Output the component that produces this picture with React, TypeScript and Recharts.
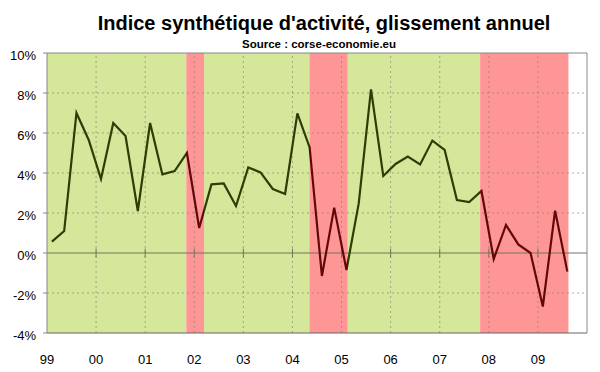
import { LineChart, Line, XAxis, YAxis, ReferenceArea, ReferenceLine } from 'recharts';

// quarterly year-on-year change of the activity index, 1999 Q1 .. 2009 Q3
const years = ['99', '00', '01', '02', '03', '04', '05', '06', '07', '08', '09'];
const growth = [
    0.57, 1.1, 7.0, 5.65,
    3.7, 6.5, 5.85, 2.1,
    6.5, 3.93, 4.1, 5.0,
    1.25, 3.43, 3.48, 2.35,
    4.28, 4.03, 3.2, 2.95,
    6.98, 5.28, -1.15, 2.27,
    -0.85, 2.48, 8.18, 3.85,
    4.45, 4.82, 4.43, 5.62,
    5.15, 2.65, 2.55, 3.1,
    -0.3, 1.4, 0.43, 0.0,
    -2.68, 2.12, -0.93,
];
// periods in quarters since 1999 Q1
const greenSpans = [[0, 11.35], [12.8, 21.38], [24.5, 35.29]];
const redSpans = [[11.35, 12.8], [21.38, 24.5], [35.29, 42.49]];
const yTicks = [-4, -2, 0, 2, 4, 6, 8, 10];

const data = growth.map((v, i) => ({ t: i + 0.4, v }));
const xTicks = years.map((_, i) => i * 4);

const tFirst = data[0].t;
const tLast = data[data.length - 1].t;
const pct = (t: number) => Math.min(100, Math.max(0, ((t - tFirst) / (tLast - tFirst)) * 100));

const GREEN_LINE = '#2f3c05';
const RED_LINE = '#620808';
const GRID = '#7d7d6a';
const font = '"Liberation Sans", Arial, sans-serif';

export default function App() {
    const stops: { off: number; color: string }[] = [{ off: 0, color: GREEN_LINE }];
    redSpans.forEach(([a, b]) => {
        stops.push({ off: pct(a), color: GREEN_LINE });
        stops.push({ off: pct(a), color: RED_LINE });
        stops.push({ off: pct(b), color: RED_LINE });
        stops.push({ off: pct(b), color: GREEN_LINE });
    });
    stops.push({ off: 100, color: GREEN_LINE });

    return (
        <div style={{ position: 'absolute', left: 0, top: 0, width: 600, height: 372, background: '#fff', fontFamily: font }}>
            <div style={{ position: 'absolute', left: 0, width: 648, top: 13, textAlign: 'center', fontSize: 20, fontWeight: 'bold', lineHeight: 1, whiteSpace: 'nowrap' }}>
                Indice synthétique d'activité, glissement annuel
            </div>
            <div style={{ position: 'absolute', left: 0, width: 638, top: 39, textAlign: 'center', fontSize: 11.5, fontWeight: 'bold', lineHeight: 1, whiteSpace: 'nowrap' }}>
                Source : corse-economie.eu
            </div>
            <LineChart
                width={600}
                height={372}
                data={data}
                margin={{ top: 53, right: 13, bottom: 0, left: 0 }}
                style={{ position: 'absolute', left: 0, top: 0 }}
            >
                <defs>
                    <linearGradient id="lineTone" x1="0" y1="0" x2="1" y2="0">
                        {stops.map((s, i) => (
                            <stop key={i} offset={`${s.off}%`} stopColor={s.color} />
                        ))}
                    </linearGradient>
                </defs>
                {greenSpans.map(([a, b], i) => (
                    <ReferenceArea key={'g' + i} x1={a} x2={b} fill="#d4e79a" fillOpacity={1} stroke="none" />
                ))}
                {redSpans.map(([a, b], i) => (
                    <ReferenceArea key={'r' + i} x1={a} x2={b} fill="#ff9696" fillOpacity={1} stroke="none" />
                ))}
                {yTicks.filter((v) => v !== 0 && v !== -4 && v !== 10).map((v) => (
                    <ReferenceLine key={'hy' + v} y={v} stroke={GRID} strokeOpacity={0.6} strokeDasharray="2 3" />
                ))}
                {xTicks.slice(1).map((t) => (
                    <ReferenceLine key={'vx' + t} x={t} stroke={GRID} strokeOpacity={0.6} strokeDasharray="2 3" />
                ))}
                <XAxis
                    type="number"
                    dataKey="t"
                    domain={[0, 44]}
                    ticks={xTicks}
                    interval={0}
                    tickFormatter={(t: number) => years[t / 4]}
                    allowDataOverflow
                    height={39}
                    axisLine={{ stroke: '#666', strokeWidth: 1 }}
                    tickLine={false}
                    tickSize={0}
                    tickMargin={22}
                    tick={{ fill: '#000', fontSize: 13, fontFamily: font }}
                />
                <YAxis
                    type="number"
                    domain={[-4, 10]}
                    ticks={yTicks}
                    width={47}
                    allowDataOverflow
                    tickFormatter={(v: number) => `${v}%`}
                    axisLine={{ stroke: '#888' }}
                    tickLine={{ stroke: '#888' }}
                    tickSize={4}
                    tickMargin={7}
                    tick={{ fill: '#000', fontSize: 13, fontFamily: font, dy: 2 }}
                />
                <ReferenceLine y={0} stroke="#75755c" strokeWidth={1} />
                <ReferenceLine y={10} stroke="#888" strokeWidth={1} />
                <ReferenceLine x={44} stroke="#888" strokeWidth={1} />
                {xTicks.slice(1).map((t) => (
                    <ReferenceLine key={'tk' + t} segment={[{ x: t, y: -0.22 }, { x: t, y: 0.22 }]} stroke="#75755c" />
                ))}
                <Line
                    type="linear"
                    dataKey="v"
                    stroke="url(#lineTone)"
                    strokeWidth={2.2}
                    dot={false}
                    activeDot={false}
                    isAnimationActive={false}
                />
            </LineChart>
        </div>
    );
}
